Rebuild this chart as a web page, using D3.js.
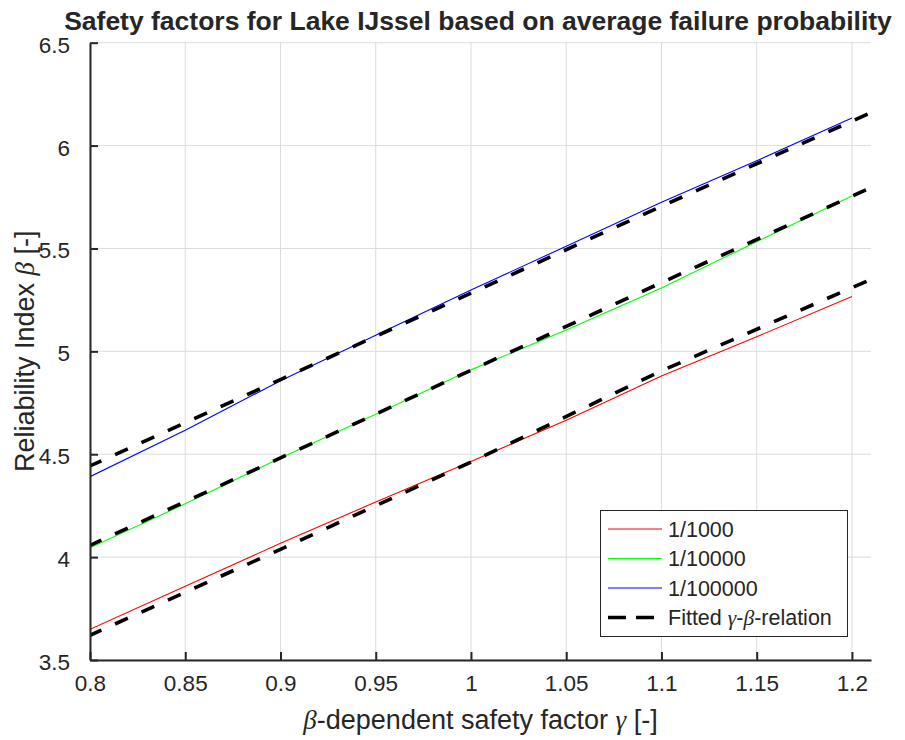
<!DOCTYPE html>
<html>
<head>
<meta charset="utf-8">
<script src="https://cdn.jsdelivr.net/npm/d3@7"></script>
<style>
  html, body { margin: 0; padding: 0; background: #ffffff; }
  svg { display: block; }
  text { font-family: "Liberation Sans", Arial, Helvetica, sans-serif; fill: #262626; }
  .greek { font-family: "Liberation Serif", "DejaVu Serif", serif; font-style: italic; }
</style>
</head>
<body>
<svg id="chart" width="905" height="740"></svg>
<script>
// Safety factor gamma versus reliability index beta, per target failure probability
const gamma = [0.80, 0.85, 0.90, 0.95, 1.00, 1.05, 1.10, 1.15, 1.20];
const beta1000 = [3.649, 3.859, 4.067, 4.268, 4.465, 4.665, 4.880, 5.071, 5.266];
const beta10000 = [4.045, 4.259, 4.482, 4.694, 4.910, 5.104, 5.308, 5.533, 5.755];
const beta100000 = [4.391, 4.617, 4.857, 5.078, 5.298, 5.511, 5.725, 5.926, 6.134];

// Fitted gamma-beta relation for each probability
const gammaFit = [0.80, 0.90, 1.00, 1.10, 1.21];
const fit1000 = [3.620, 4.038, 4.462, 4.905, 5.350];
const fit10000 = [4.057, 4.482, 4.908, 5.334, 5.796];
const fit100000 = [4.443, 4.863, 5.283, 5.705, 6.160];

const seriesNames = ["1/1000", "1/10000", "1/100000"];
const seriesColors = ["#ff0000", "#00ff00", "#0000ff"];
const xTicks = [0.8, 0.85, 0.9, 0.95, 1, 1.05, 1.1, 1.15, 1.2];
const yTicks = [3.5, 4, 4.5, 5, 5.5, 6, 6.5];

const svg = d3.select("#chart");
const plotLeft = 90, plotRight = 871, plotTop = 42.7, plotBottom = 660;
const axisColor = "#262626";

const x = d3.scaleLinear().domain([0.8, 1.21]).range([plotLeft, plotRight]);
const y = d3.scaleLinear().domain([3.5, 6.5]).range([plotBottom, plotTop]);

// grid
const grid = svg.append("g").attr("stroke", "#dcdcdc").attr("stroke-width", 1);
grid.selectAll("line.gx").data(xTicks).join("line")
  .attr("x1", d => x(d)).attr("x2", d => x(d))
  .attr("y1", plotTop).attr("y2", plotBottom);
grid.selectAll("line.gy").data(yTicks).join("line")
  .attr("x1", plotLeft).attr("x2", plotRight)
  .attr("y1", d => y(d)).attr("y2", d => y(d));

// clip for data
svg.append("clipPath").attr("id", "plotclip")
  .append("rect").attr("x", plotLeft).attr("y", plotTop)
  .attr("width", plotRight - plotLeft).attr("height", plotBottom - plotTop);

const plot = svg.append("g").attr("clip-path", "url(#plotclip)");
const line = d3.line().x(d => x(d[0])).y(d => y(d[1]));

const measured = [beta1000, beta10000, beta100000];
const fitted = [fit1000, fit10000, fit100000];

measured.forEach((vals, i) => {
  plot.append("path")
    .datum(gamma.map((g, k) => [g, vals[k]]))
    .attr("fill", "none")
    .attr("stroke", seriesColors[i])
    .attr("stroke-width", 1.1)
    .attr("d", line);
});

fitted.forEach(vals => {
  plot.append("path")
    .datum(gammaFit.map((g, k) => [g, vals[k]]))
    .attr("fill", "none")
    .attr("stroke", "#000000")
    .attr("stroke-width", 3.6)
    .attr("stroke-dasharray", "14 15")
    .attr("stroke-dashoffset", 1.5)
    .attr("d", line);
});

// axes (ticks pointing inward)
const xAxis = svg.append("g").attr("transform", `translate(0,${plotBottom})`)
  .call(d3.axisBottom(x).tickValues(xTicks).tickSizeInner(-8).tickSizeOuter(0)
    .tickPadding(26).tickFormat(d3.format("")));
const yAxis = svg.append("g").attr("transform", `translate(${plotLeft},0)`)
  .call(d3.axisLeft(y).tickValues(yTicks).tickSizeInner(-8).tickSizeOuter(0)
    .tickPadding(20).tickFormat(d3.format("")));

[xAxis, yAxis].forEach(a => {
  a.select(".domain").attr("stroke", axisColor).attr("stroke-width", 2);
  a.selectAll(".tick line").attr("stroke", axisColor).attr("stroke-width", 2);
  a.selectAll(".tick text").attr("fill", axisColor)
    .style("font-size", "22.5px")
    .style("font-family", "'Liberation Sans', Arial, sans-serif");
});
yAxis.selectAll(".tick text").attr("dy", "0.42em");
xAxis.selectAll(".tick text").attr("dy", "0.2em");

// title
svg.append("text")
  .attr("x", 478).attr("y", 29.5)
  .attr("text-anchor", "middle")
  .style("font-size", "26.5px").style("font-weight", "bold")
  .attr("fill", "#000000")
  .text("Safety factors for Lake IJssel based on average failure probability");

// axis labels
const xl = svg.append("text")
  .attr("x", (plotLeft + plotRight) / 2).attr("y", 729)
  .attr("text-anchor", "middle").style("font-size", "27px");
xl.append("tspan").attr("class", "greek").text("β");
xl.append("tspan").text("-dependent safety factor ");
xl.append("tspan").attr("class", "greek").text("γ");
xl.append("tspan").text(" [-]");

const yl = svg.append("text")
  .attr("transform", `translate(34,${(plotTop + plotBottom) / 2}) rotate(-90)`)
  .attr("text-anchor", "middle").style("font-size", "27px");
yl.append("tspan").text("Reliability Index ");
yl.append("tspan").attr("class", "greek").text("β");
yl.append("tspan").text(" [-]");

// legend
const lg = svg.append("g");
lg.append("rect")
  .attr("x", 600.5).attr("y", 510.5).attr("width", 247).attr("height", 126)
  .attr("fill", "#ffffff").attr("stroke", axisColor).attr("stroke-width", 1);
const rowY = [529, 558.5, 588, 617.5];
seriesNames.forEach((name, i) => {
  lg.append("line")
    .attr("x1", 608).attr("x2", 662).attr("y1", rowY[i]).attr("y2", rowY[i])
    .attr("stroke", seriesColors[i]).attr("stroke-width", 1.1);
  lg.append("text").attr("x", 668).attr("y", rowY[i] + 7.5)
    .style("font-size", "21.5px").attr("fill", "#000000").text(name);
});
lg.append("line")
  .attr("x1", 608).attr("x2", 662).attr("y1", rowY[3]).attr("y2", rowY[3])
  .attr("stroke", "#000000").attr("stroke-width", 3.6)
  .attr("stroke-dasharray", "18 10");
const ft = lg.append("text").attr("x", 668).attr("y", rowY[3] + 7.5)
  .style("font-size", "21.5px").attr("fill", "#000000");
ft.append("tspan").text("Fitted ");
ft.append("tspan").attr("class", "greek").text("γ");
ft.append("tspan").text("-");
ft.append("tspan").attr("class", "greek").text("β");
ft.append("tspan").text("-relation");
</script>
</body>
</html>
